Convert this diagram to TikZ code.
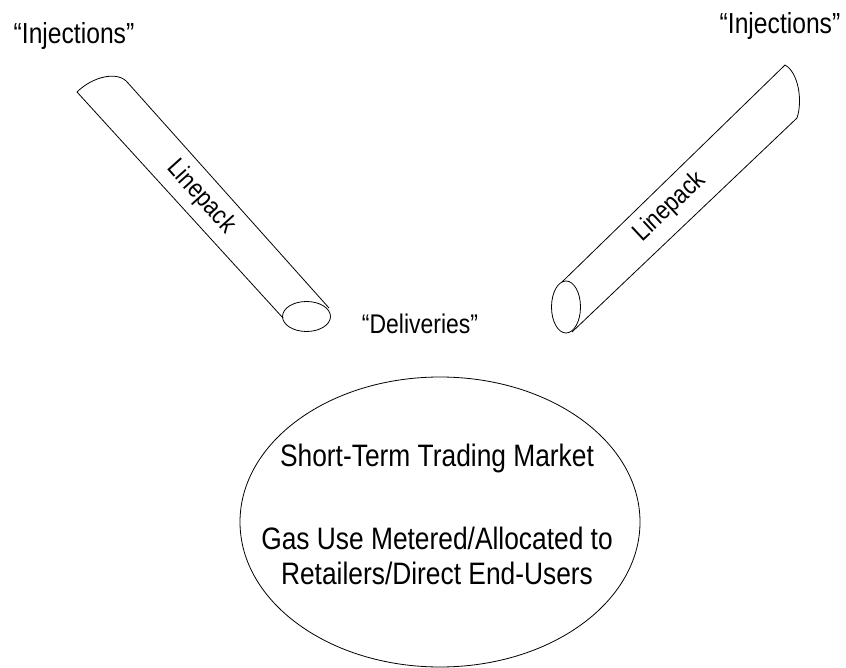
\documentclass[tikz,border=0pt]{standalone}
\usepackage{fontspec}
\setmainfont{Liberation Sans}[FakeStretch=0.85]
\usetikzlibrary{shapes.geometric}
\begin{document}
\begin{tikzpicture}[x=1pt,y=-1pt,
  pipe/.style={draw=black,line width=0.8pt},
  lbl/.style={inner sep=0pt,font=\fontsize{29}{34}\selectfont},
  dlb/.style={inner sep=0pt,font=\fontsize{27}{32}\selectfont},
  lp/.style={inner sep=0pt,font=\fontsize{26}{30}\selectfont},
  mkt/.style={inner sep=0pt,font=\fontsize{31}{35}\selectfont,align=center}]
\useasboundingbox (0,0) rectangle (846,668);
% left pipe
\coordinate (la) at (77,92);
\coordinate (lb) at (128,83);
\coordinate (lc) at (283,318);
\coordinate (ld) at (329,308);
\draw[pipe] (la) .. controls (92,77) and (118,70) .. (lb);
\draw[pipe] (la) -- (lc);
\draw[pipe] (lb) -- (ld);
\node[pipe,ellipse,minimum width=48pt,minimum height=30pt,inner sep=0pt] (lend) at (306.5,316.5) {};
\node[lp,rotate=-48] (lpl) at (201,197) {Linepack};
% right pipe
\coordinate (ra) at (785,65);
\coordinate (rb) at (797,118);
\coordinate (rc) at (562,282);
\coordinate (rd) at (572,332);
\draw[pipe] (ra) .. controls (798,72) and (803,100) .. (rb);
\draw[pipe] (ra) -- (rc);
\draw[pipe] (rb) -- (rd);
\node[pipe,ellipse,minimum width=29pt,minimum height=52pt,inner sep=0pt] (rend) at (566,307) {};
\node[lp,rotate=43] (lpr) at (670,207) {Linepack};
% labels
\node[lbl] (injl) at (74,36) {“Injections”};
\node[lbl] (injr) at (780,26) {“Injections”};
\node[dlb] (del) at (420,324) {“Deliveries”};
% market
\node[draw=black,line width=0.8pt,ellipse,minimum width=400pt,minimum height=290pt,inner sep=0pt] (mk) at (440,522) {};
\node[mkt] (t1) at (437,458) {Short-Term Trading Market};
\node[mkt] (t2) at (437,556) {Gas Use Metered/Allocated to\\Retailers/Direct End-Users};
\end{tikzpicture}
\end{document}
